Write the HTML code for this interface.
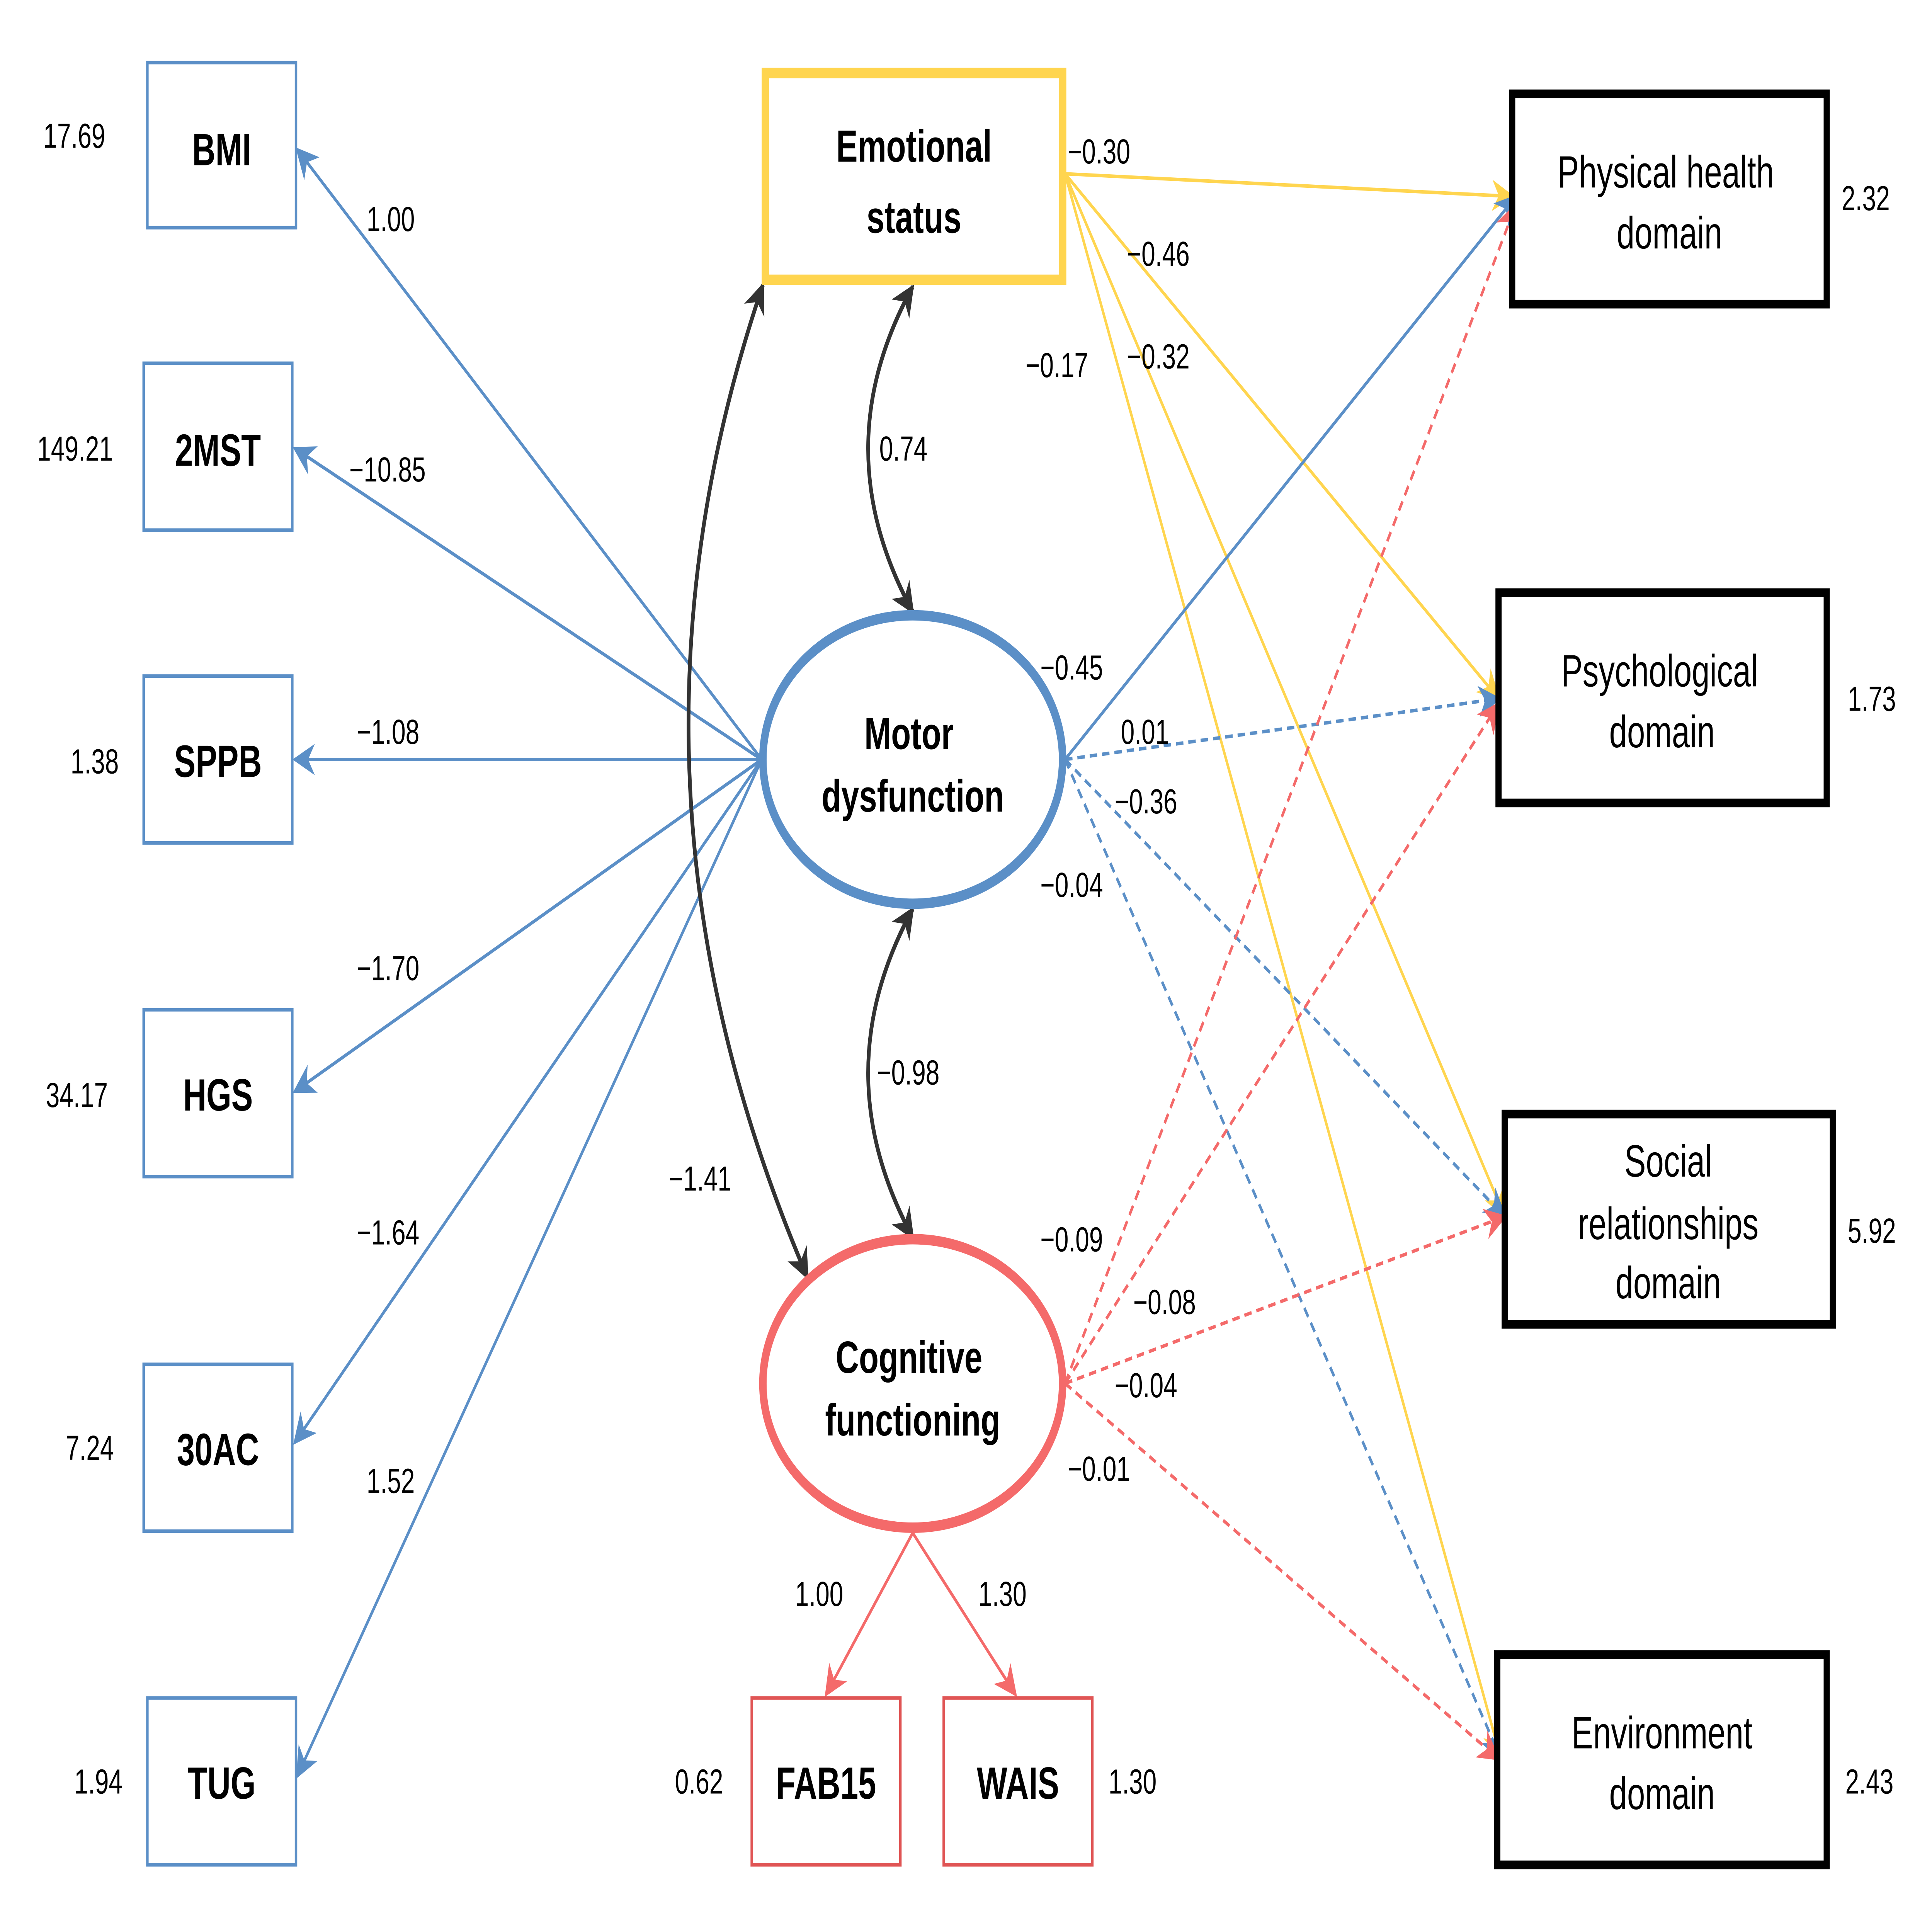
<!DOCTYPE html>
<html><head><meta charset="utf-8"><style>
html,body{margin:0;padding:0;background:#fff;width:100%;height:100%;overflow:hidden;}
svg{display:block;width:100vw;height:100vh;}
text{font-family:"Liberation Sans",Arial,sans-serif;fill:#000;}
</style></head><body>
<svg viewBox="0 0 1560 1103" preserveAspectRatio="none" xmlns="http://www.w3.org/2000/svg">
<defs>
<marker id="ay" viewBox="0 0 10 10" refX="9" refY="5" markerWidth="18" markerHeight="18" orient="auto" markerUnits="userSpaceOnUse"><path d="M0,0 L10,5 L0,10 L3,5z" fill="#FFD54F"/></marker>
<marker id="ar" viewBox="0 0 10 10" refX="9" refY="5" markerWidth="18" markerHeight="18" orient="auto" markerUnits="userSpaceOnUse"><path d="M0,0 L10,5 L0,10 L3,5z" fill="#F46A6A"/></marker>
<marker id="ab2" viewBox="0 0 10 10" refX="9" refY="5" markerWidth="18" markerHeight="18" orient="auto" markerUnits="userSpaceOnUse"><path d="M0,0 L10,5 L0,10 L3,5z" fill="#5B8FC7"/></marker>
<marker id="ak" viewBox="0 0 10 10" refX="9" refY="5" markerWidth="18" markerHeight="18" orient="auto-start-reverse" markerUnits="userSpaceOnUse"><path d="M0,0 L10,5 L0,10 L3,5z" fill="#333"/></marker>
</defs>
<g fill="none" stroke-width="2">
<g stroke="#5B8FC7" marker-end="url(#ab2)">
<line x1="615" y1="437" x2="240" y2="86"/>
<line x1="615" y1="437" x2="238" y2="258"/>
<line x1="615" y1="437" x2="238" y2="437"/>
<line x1="615" y1="437" x2="238" y2="628"/>
<line x1="615" y1="437" x2="238" y2="830"/>
<line x1="615" y1="437" x2="240" y2="1022"/>
</g>
<g stroke="#FFD54F" marker-end="url(#ay)">
<line x1="860" y1="100" x2="1221" y2="113"/>
<line x1="860" y1="100" x2="1210" y2="402"/>
<line x1="860" y1="100" x2="1215" y2="700"/>
<line x1="860" y1="100" x2="1212" y2="1012"/>
</g>
<g stroke="#5B8FC7" marker-end="url(#ab2)">
<line x1="860" y1="437" x2="1224" y2="113"/>
<line x1="860" y1="437" x2="1210" y2="402" stroke-dasharray="6,4"/>
<line x1="860" y1="437" x2="1215" y2="700" stroke-dasharray="6,4"/>
<line x1="860" y1="437" x2="1212" y2="1012" stroke-dasharray="6,4"/>
</g>
<g stroke="#F46A6A" stroke-dasharray="6,4" marker-end="url(#ar)">
<line x1="860" y1="796" x2="1224" y2="118"/>
<line x1="860" y1="796" x2="1210" y2="405"/>
<line x1="860" y1="796" x2="1215" y2="700"/>
<line x1="860" y1="796" x2="1210" y2="1012"/>
</g>
<g stroke="#F46A6A" marker-end="url(#ar)">
<line x1="737" y1="882" x2="667" y2="975"/>
<line x1="737" y1="882" x2="820" y2="975"/>
</g>
<g stroke="#333" stroke-width="3" marker-start="url(#ak)" marker-end="url(#ak)">
<path d="M737,165 Q665,258 737,352"/>
<path d="M737,523 Q665,617 737,712"/>
<path d="M616,164 Q480,450 652,735"/>
</g>
</g>
<g fill="#fff" stroke="#5B8FC7" stroke-width="2">
<rect x="119" y="36" width="120" height="95"/>
<rect x="116" y="209" width="120" height="96"/>
<rect x="116" y="389" width="120" height="96"/>
<rect x="116" y="581" width="120" height="96"/>
<rect x="116" y="785" width="120" height="96"/>
<rect x="119" y="977" width="120" height="96"/>
</g>
<g fill="#fff" stroke="#E05555" stroke-width="2">
<rect x="607" y="977" width="120" height="96"/>
<rect x="762" y="977" width="120" height="96"/>
</g>
<rect x="618" y="42" width="240" height="119" fill="#fff" stroke="#FFD54F" stroke-width="6"/>
<ellipse cx="737" cy="437" rx="121" ry="83" fill="#fff" stroke="#5B8FC7" stroke-width="6"/>
<ellipse cx="737" cy="796" rx="121" ry="83" fill="#fff" stroke="#F46A6A" stroke-width="6"/>
<g fill="#fff" stroke="#000" stroke-width="5">
<rect x="1221" y="54" width="254" height="121"/>
<rect x="1210" y="341" width="265" height="121"/>
<rect x="1215" y="641" width="265" height="121"/>
<rect x="1209" y="952" width="266" height="121"/>
</g>
<g font-size="26" font-weight="bold" text-anchor="middle">
<text x="179" y="95">BMI</text>
<text x="176" y="268">2MST</text>
<text x="176" y="447">SPPB</text>
<text x="176" y="639">HGS</text>
<text x="176" y="843">30AC</text>
<text x="179" y="1035">TUG</text>
<text x="667" y="1035">FAB15</text>
<text x="822" y="1035">WAIS</text>
<text x="738" y="93">Emotional</text>
<text x="738" y="134">status</text>
<text x="734" y="431">Motor</text>
<text x="737" y="467">dysfunction</text>
<text x="734" y="790">Cognitive</text>
<text x="737" y="826">functioning</text>
</g>
<g font-size="26" text-anchor="middle">
<text x="1345" y="108">Physical health</text>
<text x="1348" y="143">domain</text>
<text x="1340" y="395">Psychological</text>
<text x="1342" y="430">domain</text>
<text x="1347" y="677">Social</text>
<text x="1347" y="713">relationships</text>
<text x="1347" y="747">domain</text>
<text x="1342" y="1006">Environment</text>
<text x="1342" y="1041">domain</text>
</g>
<g font-size="20">
<text x="35" y="85">17.69</text>
<text x="30" y="265">149.21</text>
<text x="57" y="445">1.38</text>
<text x="37" y="637">34.17</text>
<text x="53" y="840">7.24</text>
<text x="60" y="1032">1.94</text>
<text x="545" y="1032">0.62</text>
<text x="895" y="1032">1.30</text>
<text x="1487" y="121">2.32</text>
<text x="1492" y="409">1.73</text>
<text x="1492" y="715">5.92</text>
<text x="1490" y="1032">2.43</text>
<text x="296" y="133">1.00</text>
<text x="282" y="277">−10.85</text>
<text x="288" y="428">−1.08</text>
<text x="288" y="564">−1.70</text>
<text x="288" y="716">−1.64</text>
<text x="296" y="859">1.52</text>
<text x="540" y="685">−1.41</text>
<text x="710" y="265">0.74</text>
<text x="708" y="624">−0.98</text>
<text x="642" y="924">1.00</text>
<text x="790" y="924">1.30</text>
<text x="862" y="94">−0.30</text>
<text x="910" y="153">−0.46</text>
<text x="828" y="217">−0.17</text>
<text x="910" y="212">−0.32</text>
<text x="840" y="391">−0.45</text>
<text x="905" y="428">0.01</text>
<text x="900" y="468">−0.36</text>
<text x="840" y="516">−0.04</text>
<text x="840" y="720">−0.09</text>
<text x="915" y="756">−0.08</text>
<text x="900" y="804">−0.04</text>
<text x="862" y="852">−0.01</text>
</g>
</svg>
</body></html>
